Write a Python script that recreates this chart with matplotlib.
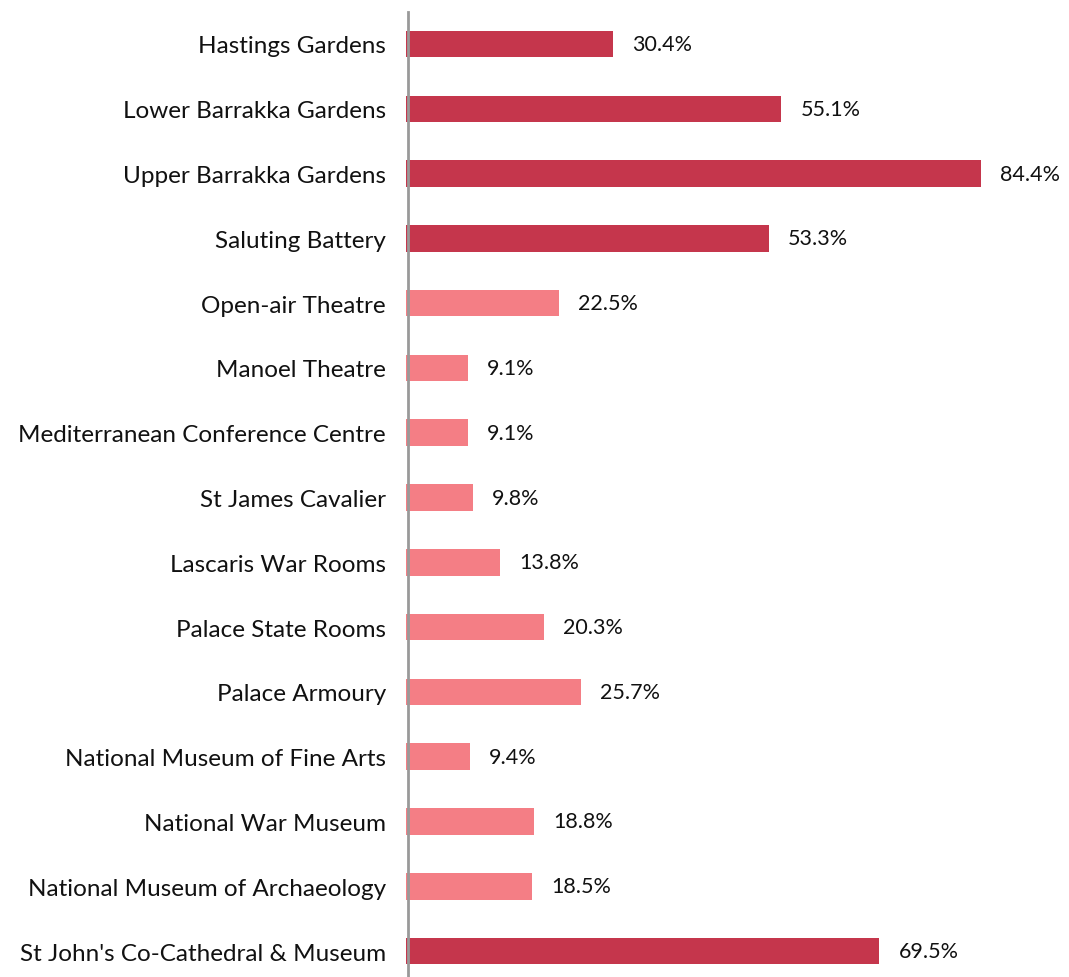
import matplotlib
matplotlib.use("Agg")
import matplotlib.pyplot as plt

plt.rcParams['font.family'] = ['Lato', 'DejaVu Sans']

sites = ["Hastings Gardens", "Lower Barrakka Gardens", "Upper Barrakka Gardens",
         "Saluting Battery", "Open-air Theatre", "Manoel Theatre",
         "Mediterranean Conference Centre", "St James Cavalier",
         "Lascaris War Rooms", "Palace State Rooms", "Palace Armoury",
         "National Museum of Fine Arts", "National War Museum",
         "National Museum of Archaeology", "St John's Co-Cathedral & Museum"]
shares = [30.4, 55.1, 84.4, 53.3, 22.5, 9.1, 9.1, 9.8, 13.8, 20.3, 25.7,
          9.4, 18.8, 18.5, 69.5]
highlight = [True, True, True, True, False, False, False, False, False,
             False, False, False, False, False, True]

dark = "#C5364C"
light = "#F47E85"
colors = [dark if h else light for h in highlight]

W, H = 1069, 978
fig = plt.figure(figsize=(W / 100, H / 100), dpi=100)
x0 = 406
ax = fig.add_axes([x0 / W, 0, (W - x0) / W, 1 - 12.6 / H])
scale = (981 - x0) / 84.4
ax.set_xlim(0, (W - x0) / scale)
ax.set_ylim(14.4, -0.5)

ypos = list(range(len(sites)))
ax.barh(ypos, shares, height=0.41, color=colors)

for y, v in zip(ypos, shares):
    ax.text(v + 19 / scale, y, "%.1f%%" % v, va="center", ha="left",
            fontsize=15.5, color="#111111")

ax.set_yticks(ypos)
ax.set_yticklabels(sites)
ax.tick_params(axis="y", length=0, pad=16, labelsize=17.5, labelcolor="#111111")
ax.set_xticks([])
for s in ["top", "right", "bottom"]:
    ax.spines[s].set_visible(False)
ax.spines["left"].set_color("#999999")
ax.spines["left"].set_linewidth(2)
ax.spines["left"].set_position(("data", 2 / scale))

fig.savefig("out.png", dpi=100)
